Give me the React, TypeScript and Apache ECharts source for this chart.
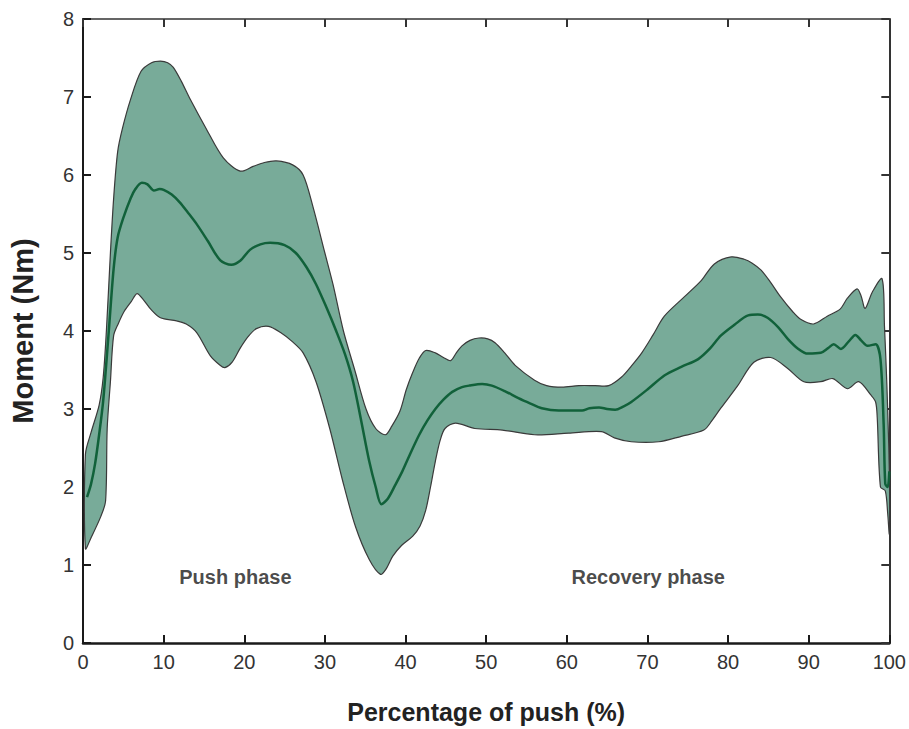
import React, { useEffect, useRef } from "react";
import * as echarts from "echarts";

const xTickValues = [0, 10, 20, 30, 40, 50, 60, 70, 80, 90, 100];
const yTickValues = [0, 1, 2, 3, 4, 5, 6, 7, 8];

const meanCurve: [number, number][] = [
  [0.5, 1.87], [1, 2.04], [1.5, 2.3], [2, 2.67], [2.5, 3.1], [3.2, 4.0], [3.8, 4.8], [4.3, 5.2],
  [5, 5.45], [5.9, 5.7], [6.5, 5.82], [7.3, 5.9], [8, 5.88], [8.8, 5.8], [9.5, 5.82], [10, 5.81],
  [11, 5.75], [12, 5.65], [13, 5.52], [14.1, 5.37], [15.5, 5.15], [17, 4.91], [18.4, 4.85],
  [19.5, 4.9], [20.7, 5.04], [22, 5.11], [23.2, 5.13], [25, 5.1], [26.4, 5.0], [27.7, 4.82],
  [28.9, 4.6], [30.2, 4.3], [31.4, 4.0], [32.5, 3.7], [33.5, 3.35], [34.5, 2.85], [35.5, 2.33],
  [36.3, 2.0], [37, 1.78], [37.8, 1.85], [38.7, 2.02], [39.6, 2.2], [40.6, 2.43], [41.7, 2.67],
  [42.7, 2.85], [43.7, 3.0], [44.7, 3.12], [45.8, 3.22], [47, 3.28], [47.9, 3.3], [49.5, 3.32],
  [50.7, 3.3], [52.3, 3.23], [54, 3.14], [55.5, 3.07], [56.9, 3.01], [59, 2.98], [61.9, 2.98],
  [62.8, 3.01], [64, 3.02], [65, 3.0], [66, 2.99], [67, 3.03], [68, 3.09], [70, 3.25], [72.1, 3.43],
  [74.2, 3.54], [76.3, 3.64], [77.8, 3.78], [79.1, 3.94], [80.8, 4.08], [82.5, 4.2], [83.7, 4.21],
  [84.9, 4.17], [86.2, 4.05], [87.4, 3.9], [88.6, 3.78], [89.9, 3.71], [91.5, 3.72], [92.4, 3.78],
  [93.1, 3.83], [94, 3.77], [95, 3.87], [95.8, 3.95], [96.5, 3.88], [97.3, 3.81], [98.3, 3.83],
  [98.9, 3.64], [99.3, 2.8], [99.5, 2.04], [99.8, 2.0], [100, 2.2],
];

const upperBound: [number, number][] = [
  [0.3, 2.42], [1, 2.7], [2, 3.05], [2.5, 3.4], [2.9, 4.0], [3.4, 5.0], [3.8, 5.7], [4.3, 6.3],
  [4.9, 6.6], [5.9, 6.97], [7.2, 7.33], [8.5, 7.44], [9.6, 7.46], [10.5, 7.44], [11.2, 7.38],
  [12.2, 7.2], [13.3, 6.97], [15.3, 6.59], [17.4, 6.22], [19.5, 6.05], [21.1, 6.11], [22.5, 6.16],
  [24, 6.18], [26, 6.13], [27.3, 6.0], [28.5, 5.6], [30, 5.0], [31, 4.6], [32.3, 4.0], [33.7, 3.5],
  [35.1, 3.0], [36.3, 2.75], [37.5, 2.67], [38.3, 2.78], [39.3, 2.97], [40.1, 3.25], [40.9, 3.47],
  [41.7, 3.65], [42.5, 3.75], [43.7, 3.72], [44.7, 3.66], [45.6, 3.62], [46.3, 3.72], [47, 3.81],
  [48, 3.88], [49.1, 3.91], [50.2, 3.9], [51.1, 3.85], [52.3, 3.72], [53.6, 3.56], [56, 3.37],
  [57.5, 3.3], [59.4, 3.28], [61.5, 3.3], [63.5, 3.3], [65.2, 3.3], [66.8, 3.41], [68, 3.55],
  [69.3, 3.72], [70.7, 3.95], [72.1, 4.19], [74.6, 4.44], [76.7, 4.65], [78.3, 4.86], [80.4, 4.95],
  [82, 4.92], [83, 4.87], [84.1, 4.78], [85.3, 4.62], [86.5, 4.44], [88, 4.25], [89, 4.15],
  [90.6, 4.09], [92.3, 4.19], [93.9, 4.28], [94.8, 4.42], [96, 4.54], [96.5, 4.45], [97, 4.29],
  [97.9, 4.5], [99.1, 4.67], [99.4, 4.06], [99.7, 3.3], [100, 2.2],
];

const lowerBound: [number, number][] = [
  [0.3, 1.21], [1, 1.35], [2.2, 1.62], [2.8, 1.82], [3.0, 2.75], [3.4, 3.35], [3.8, 3.94], [4.4, 4.1],
  [5.1, 4.25], [6, 4.38], [6.7, 4.48], [7.5, 4.4], [8.4, 4.28], [9.6, 4.17], [11.6, 4.13],
  [12.8, 4.09], [14.1, 3.98], [15.8, 3.68], [17, 3.56], [17.6, 3.53], [18.5, 3.6], [19.5, 3.78],
  [20.5, 3.93], [21.5, 4.03], [23, 4.06], [24.5, 3.98], [26, 3.86], [27.3, 3.72], [28.9, 3.35],
  [30.6, 2.75], [32.2, 2.08], [33.8, 1.49], [35.5, 1.07], [36.9, 0.88], [37.6, 0.95], [38.4, 1.11],
  [39.5, 1.25], [40.9, 1.37], [41.8, 1.5], [42.5, 1.7], [43.1, 2.0], [43.7, 2.33], [44.3, 2.6],
  [44.9, 2.75], [46.2, 2.82], [48.6, 2.75], [52, 2.73], [56, 2.67], [60.2, 2.69], [64.3, 2.71],
  [65.9, 2.63], [68, 2.58], [71.4, 2.58], [74.2, 2.65], [77, 2.73], [78, 2.85], [79.1, 3.01],
  [81.2, 3.3], [83.2, 3.6], [85.3, 3.66], [87.4, 3.52], [89.4, 3.35], [91.5, 3.35], [93, 3.39],
  [94.8, 3.26], [96.2, 3.35], [97.7, 3.18], [98.3, 3.09], [98.5, 2.89], [98.9, 2.0], [99.5, 1.95],
  [99.8, 1.66], [100, 1.4],
];

const phaseLabels = ["Push phase", "Recovery phase"];
const phaseLabelX = [18.9, 70.1];
const phaseLabelY = 0.84;

const FONT = "'Liberation Sans', Arial, Helvetica, sans-serif";

export default function App() {
  const ref = useRef<HTMLDivElement>(null);

  useEffect(() => {
    document.body.style.margin = "0";
    const chart = echarts.init(ref.current!, null, { renderer: "svg" });
    const bandPolygon = [...upperBound, ...lowerBound.slice().reverse()];

    const baseX = {
      type: "value",
      min: xTickValues[0],
      max: xTickValues[xTickValues.length - 1],
      interval: 10,
      splitLine: { show: false },
    };
    const baseY = {
      type: "value",
      min: yTickValues[0],
      max: yTickValues[yTickValues.length - 1],
      interval: 1,
      splitLine: { show: false },
    };

    chart.setOption({
      animation: false,
      backgroundColor: "#ffffff",
      grid: { left: 79, right: 19, top: 19, bottom: 78, containLabel: false },
      xAxis: [
        {
          ...baseX,
          position: "bottom",
          name: "Percentage of push (%)",
          nameLocation: "middle",
          nameGap: 56,
          nameTextStyle: { fontFamily: FONT, fontWeight: "bold", fontSize: 25, color: "#222" },
          axisLine: { onZero: false, lineStyle: { color: "#1a1a1a", width: 2.5 } },
          axisTick: { inside: true, length: 8, lineStyle: { color: "#1a1a1a", width: 2 } },
          axisLabel: { fontFamily: FONT, fontSize: 20, color: "#333", margin: 9 },
        },
        {
          ...baseX,
          position: "top",
          axisLine: { onZero: false, lineStyle: { color: "#333", width: 1.5 } },
          axisTick: { inside: true, length: 8, lineStyle: { color: "#333", width: 2 } },
          axisLabel: { show: false },
        },
      ],
      yAxis: [
        {
          ...baseY,
          position: "left",
          name: "Moment (Nm)",
          nameLocation: "middle",
          nameGap: 46,
          nameTextStyle: { fontFamily: FONT, fontWeight: "bold", fontSize: 29, color: "#222" },
          axisLine: { onZero: false, lineStyle: { color: "#1a1a1a", width: 2 } },
          axisTick: { inside: true, length: 8, lineStyle: { color: "#1a1a1a", width: 2 } },
          axisLabel: { fontFamily: FONT, fontSize: 20, color: "#333", margin: 9 },
        },
        {
          ...baseY,
          position: "right",
          axisLine: { onZero: false, lineStyle: { color: "#333", width: 2 } },
          axisTick: { inside: true, length: 8, lineStyle: { color: "#333", width: 2 } },
          axisLabel: { show: false },
        },
      ],
      series: [
        {
          type: "custom",
          xAxisIndex: 0,
          yAxisIndex: 0,
          silent: true,
          data: [[0, 0]],
          renderItem: (_params: any, api: any) => ({
            type: "polygon",
            shape: { points: bandPolygon.map((p) => api.coord(p)), smooth: 0.3 },
            style: { fill: "#78ab99", stroke: "#3a3a3a", lineWidth: 1.2 },
          }),
          z: 2,
        },
        {
          type: "line",
          xAxisIndex: 0,
          yAxisIndex: 0,
          data: meanCurve,
          showSymbol: false,
          symbol: "none",
          smooth: 0.3,
          lineStyle: { color: "#11613a", width: 2.5 },
          z: 3,
        },
        {
          type: "scatter",
          xAxisIndex: 0,
          yAxisIndex: 0,
          silent: true,
          symbolSize: 0,
          data: phaseLabels.map((name, i) => ({ name, value: [phaseLabelX[i], phaseLabelY] })),
          label: {
            show: true,
            position: "inside",
            formatter: (p: any) => p.name,
            fontFamily: FONT,
            fontWeight: "bold",
            fontSize: 20,
            color: "#1a1a1a",
          },
          z: 4,
        },
      ],
    });

    return () => chart.dispose();
  }, []);

  return <div ref={ref} style={{ width: 909, height: 729 }} />;
}
